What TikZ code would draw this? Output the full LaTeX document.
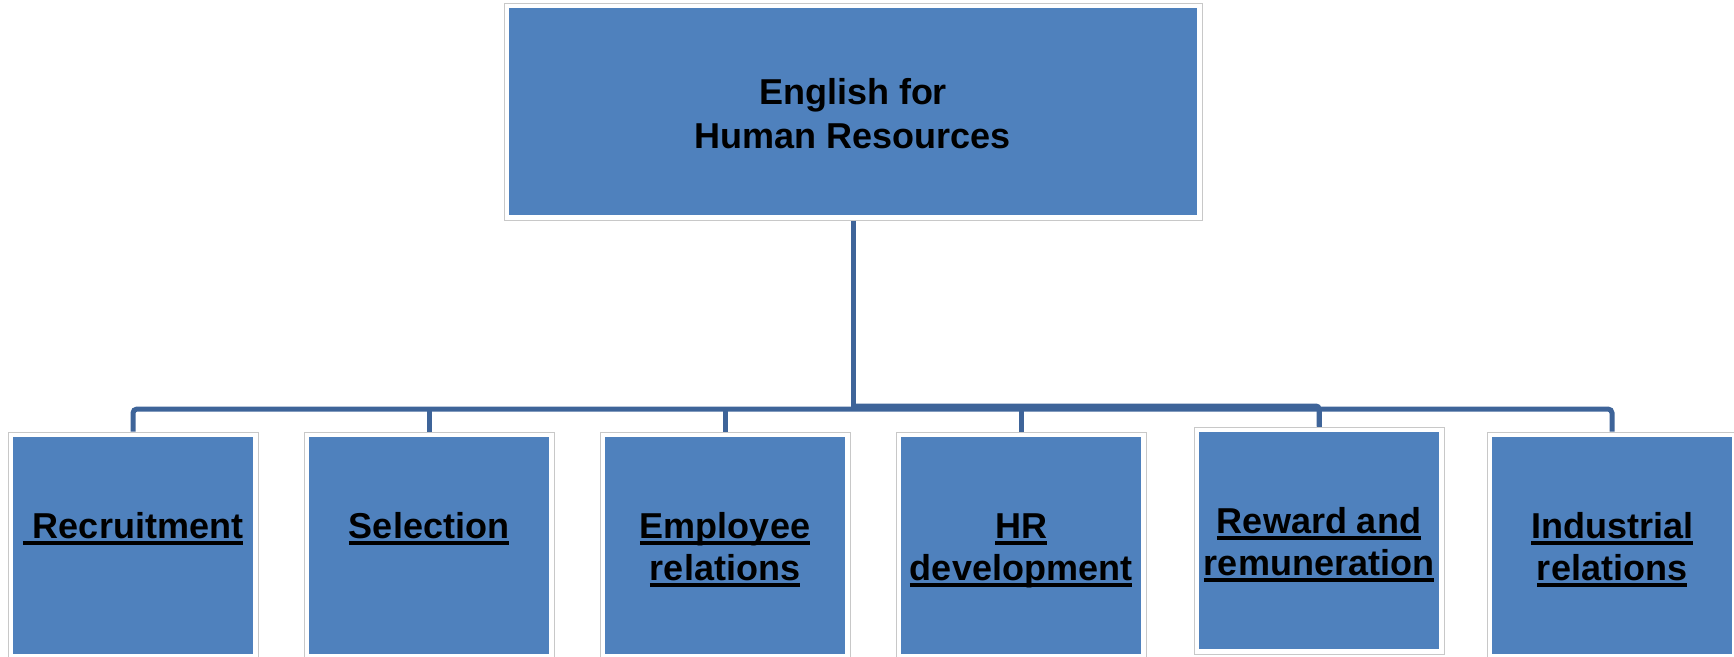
\documentclass[tikz,border=0pt]{standalone}
\usepackage{fontspec}
\setmainfont{Liberation Sans}
\definecolor{hrblue}{HTML}{4F81BD}
\definecolor{hrline}{HTML}{3E6499}
\definecolor{hrframe}{HTML}{C8C8C8}
\newcommand\hrul[1]{\setbox0\hbox{#1}\rlap{\rule[-6.5pt]{\wd0}{3.8pt}}\box0}
\newcommand\capstrut{\rule{0pt}{26pt}}
\begin{document}
\begin{tikzpicture}[x=1pt,y=-1pt,
 box/.style={preaction={draw=hrframe,line width=11pt},preaction={draw=white,line width=9pt},
   fill=hrblue,inner sep=0pt,outer sep=5.5pt,minimum width=240pt,minimum height=217pt},
 lab/.style={font=\fontsize{36}{42}\selectfont\bfseries,align=center,inner sep=0pt,anchor=north,text=black},
 conn/.style={draw=hrline,line width=5pt}]
\useasboundingbox (0,0) rectangle (1734,656);
% top
\node[box,minimum width=688pt,minimum height=207pt] (top) at (853,111.5) {};
\node[lab,font=\fontsize{36}{44}\selectfont\bfseries] (tl) at (853,78) {\capstrut English for\\\capstrut Human Resources};
% children
\node[box] (c1) at (133,545.5) {};
\node[box] (c2) at (429,545.5) {};
\node[box] (c3) at (725,545.5) {};
\node[box] (c4) at (1021,545.5) {};
\node[box] (c5) at (1319,540.5) {};
\node[box] (c6) at (1612,545.5) {};
\node[lab] (l1) at (133,512) {\capstrut\hrul{\ Recruitment}};
\node[lab] (l2) at (429,512) {\capstrut\hrul{Selection}};
\node[lab] (l3) at (725,512) {\capstrut\hrul{Employee}\\\capstrut\hrul{relations}};
\node[lab] (l4) at (1021,512) {\capstrut\hrul{HR}\\\capstrut\hrul{development}};
\node[lab] (l5) at (1319,507) {\capstrut\hrul{Reward and}\\\capstrut\hrul{remuneration}};
\node[lab] (l6) at (1612,512) {\capstrut\hrul{Industrial}\\\capstrut\hrul{relations}};
% connectors
\coordinate (bus) at (853,409);
\coordinate (mid) at (853,406);
\draw[conn,rounded corners=4pt] (c1.north) -- (c1.north |- bus) -- (c6.north |- bus) -- (c6.north);
\foreach \i in {2,3,4,5} \draw[conn] (c\i.north) -- (c\i.north |- bus);
\draw[conn] (top.south) -- (top.south |- bus);
\draw[conn,rounded corners=3pt] (mid) -- (c5.north |- mid) -- (c5.north);
\end{tikzpicture}
\end{document}
